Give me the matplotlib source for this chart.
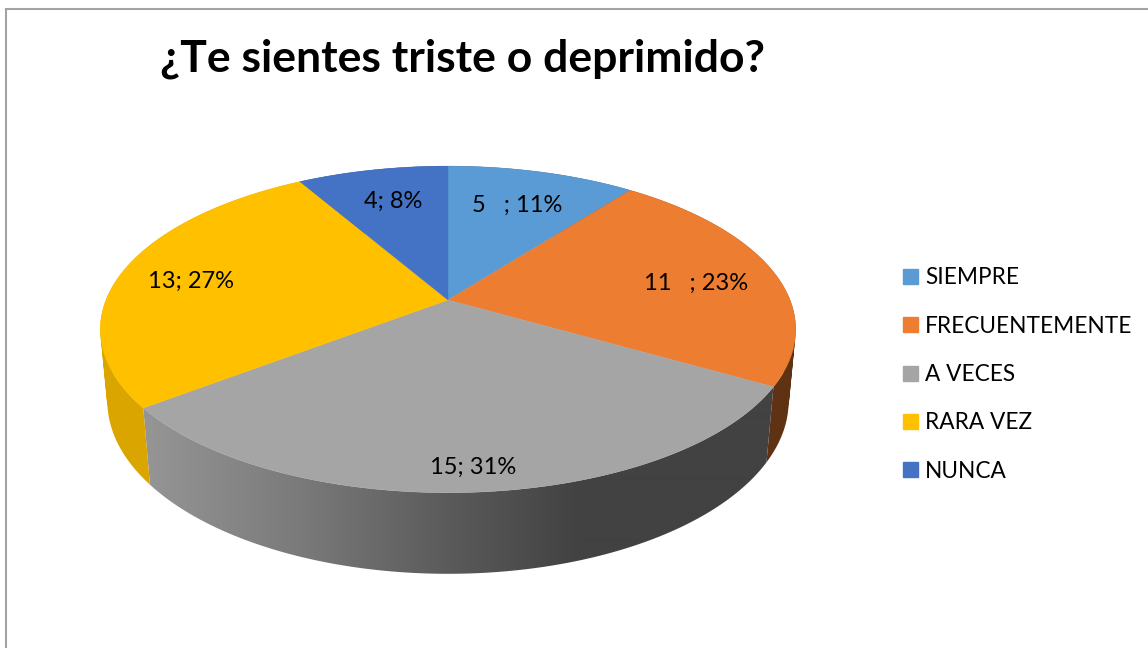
import numpy as np
import matplotlib
matplotlib.use("Agg")
import matplotlib.pyplot as plt
from matplotlib.patches import Patch, PathPatch
from matplotlib.path import Path

plt.rcParams["font.family"] = ["Lato", "DejaVu Sans"]

TITLE = "¿Te sientes triste o deprimido?"
categories = ["SIEMPRE", "FRECUENTEMENTE", "A VECES", "RARA VEZ", "NUNCA"]
counts = [5, 11, 15, 13, 4]
percents = [11, 23, 31, 27, 8]
count_gaps = ["   ", "   ", "", "", ""]

COLORS = ["#5B9BD5", "#ED7D31", "#A5A5A5", "#FFC000", "#4472C4"]
LABEL_POS = [(517, 205), (696, 283), (473, 467), (191, 281), (393, 201)]

# perspective used to project the pie disc on to the page (in pixels)
CX, CY = 448, 300
RX, RY = 342, 158
PERSP = 0.18
DEPTH, DEPTH_PERSP = 72, 0.02


def project(angle, z=0.0):
    # angle in radians, clockwise from the top; z=1 is the bottom of the wall
    u, v = np.sin(angle), np.cos(angle)
    d = 1 + PERSP * v + DEPTH_PERSP * z
    return CX + RX * u / d, CY - (RY * v - DEPTH * z) / d


def wall_shade(x):
    # the lighting on the wall gets darker left to right
    return np.interp(x, [105, 150, 300, 448, 580, 800], [0.90, 0.90, 0.74, 0.55, 0.40, 0.40])


def wall_path(a):
    # one quad per angle step, so the outline follows the tangent at the pie's sides
    xt, yt = project(a)
    xb, yb = project(a, 1)
    quads = []
    for j in range(len(a) - 1):
        pts = np.array([(xt[j], yt[j]), (xt[j + 1], yt[j + 1]), (xb[j + 1], yb[j + 1]), (xb[j], yb[j])])
        area = np.sum(pts[:, 0] * np.roll(pts[:, 1], -1) - np.roll(pts[:, 0], -1) * pts[:, 1])
        # same winding for every quad, else overlaps at the tangent cancel out
        if area < 0:
            pts = pts[::-1]
        quads.append(Path(np.vstack([pts, pts[:1]]), closed=True))
    return Path.make_compound_path(*quads)


fig = plt.figure(figsize=(11.48, 6.48), dpi=100)
ax = fig.add_axes([0, 0, 1, 1])

# chart frame: only the top and left edges are in the crop
ax.plot([5.5, 5.5, 1148], [648, 8.5, 8.5], color="#a3a3a3", lw=1.5, solid_joinstyle="miter")

edges = np.cumsum([0] + counts) / sum(counts) * 2 * np.pi
grad_x = np.arange(90, 810)

# side walls first, the top of the pie is drawn over them
for i in range(len(counts)):
    a = np.linspace(edges[i], edges[i + 1], 120)
    base = np.array(matplotlib.colors.to_rgb(COLORS[i]))
    shade = np.full(grad_x.size, 0.86) if COLORS[i] == "#FFC000" else wall_shade(grad_x)
    poly = PathPatch(wall_path(a), facecolor="none", edgecolor="none", zorder=2)
    ax.add_patch(poly)
    img = ax.imshow((base * shade[:, None])[None, :, :], extent=[90, 810, 600, 100], aspect="auto",
                    interpolation="bilinear", zorder=2.1)
    img.set_clip_path(poly)

for i in range(len(counts)):
    a = np.linspace(edges[i], edges[i + 1], 120)
    x, y = project(a)
    ax.fill(np.r_[CX, x], np.r_[CY, y], color=COLORS[i], lw=0.3, zorder=3)
    ax.text(LABEL_POS[i][0], LABEL_POS[i][1], f"{counts[i]}{count_gaps[i]}; {percents[i]}%",
            ha="center", va="center", fontsize=17, color="#000000", zorder=4)

ax.set_xlim(0, 1148)
ax.set_ylim(648, 0)
ax.axis("off")

ax.text(462.5, 59, TITLE, ha="center", va="center", fontsize=32, fontweight="bold", color="#000000")

handles = [Patch(color=c, label=n) for c, n in zip(COLORS, categories)]
ax.legend(handles=handles, loc="center left", bbox_to_anchor=(903, 374.5),
          bbox_transform=ax.transData, frameon=False, fontsize=16.3,
          borderpad=0, borderaxespad=0, handlelength=0.664, handleheight=0.645,
          handletextpad=0.31, labelspacing=1.21, labelcolor="#000000")

fig.savefig("out.png", dpi=100)
